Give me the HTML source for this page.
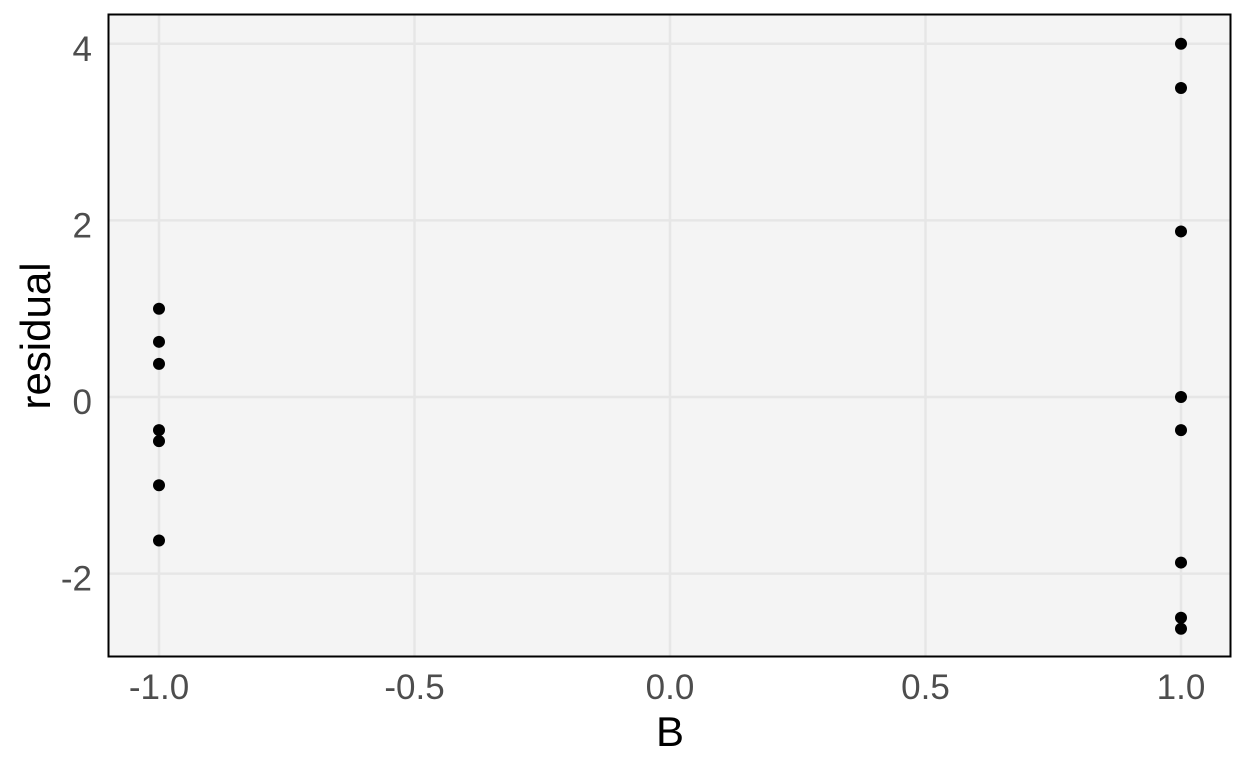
<!DOCTYPE html>
<html><head><meta charset="utf-8"><style>
html,body{margin:0;padding:0;background:#fff;overflow:hidden;}
svg{display:block;font-family:"Liberation Sans",sans-serif;}
.tick{font-size:35px;fill:#4d4d4d;}
.title{font-size:42px;fill:#000;}
</style></head><body>
<svg id="chart" width="1248" height="768">
<rect x="108" y="14" width="1123" height="643" fill="#f4f4f4"/>
<g id="grid"></g>
<g id="pts"></g>
<rect x="108.5" y="14.5" width="1122" height="642" fill="none" stroke="#000" stroke-width="2"/>
<g id="axes"></g>
<text class="title" x="670" y="746" text-anchor="middle">B</text>
<text class="title" transform="translate(50,336) rotate(-90)" text-anchor="middle">residual</text>
</svg>
<script>
const xTicks=[-1.0,-0.5,0.0,0.5,1.0];
const xTickLabels=["-1.0","-0.5","0.0","0.5","1.0"];
const yTicks=[-2,0,2,4];
const yTickLabels=["-2","0","2","4"];
const pointsB=[-1,-1,-1,-1,-1,-1,-1,1,1,1,1,1,1,1,1];
const pointsResidual=[1.0,0.625,0.375,-0.375,-0.5,-1.0,-1.625,4.0,3.5,1.875,0,-0.375,-1.875,-2.5,-2.625];
const NS="http://www.w3.org/2000/svg";
function xs(v){return 159+(v+1)*511;}
function ys(v){return 397-v*88.3;}
const grid=document.getElementById('grid'),axes=document.getElementById('axes'),pts=document.getElementById('pts');
function mk(tag,attrs,parent){const e=document.createElementNS(NS,tag);for(const k in attrs)e.setAttribute(k,attrs[k]);parent.appendChild(e);return e;}
xTicks.forEach((v,i)=>{
  const l=mk('line',{x1:xs(v),x2:xs(v),y1:14,y2:657,stroke:'#e6e6e6','stroke-width':2.5},grid);
  
  
  const tx=mk('text',{x:xs(v),y:699,'class':'tick','text-anchor':'middle'},axes);
  tx.textContent=xTickLabels[i];
  
  
});
yTicks.forEach((v,i)=>{
  const l=mk('line',{x1:108,x2:1231,y1:ys(v),y2:ys(v),stroke:'#e6e6e6','stroke-width':2.5},grid);
  
  
  const tx=mk('text',{x:92,y:ys(v)+17,'class':'tick','text-anchor':'end'},axes);
  tx.textContent=yTickLabels[i];
  
  
});
pointsB.forEach((b,i)=>{
  const c=mk('circle',{cx:xs(b),cy:ys(pointsResidual[i]),r:6,fill:'#000'},pts);
  
  
});
</script>
</body></html>
